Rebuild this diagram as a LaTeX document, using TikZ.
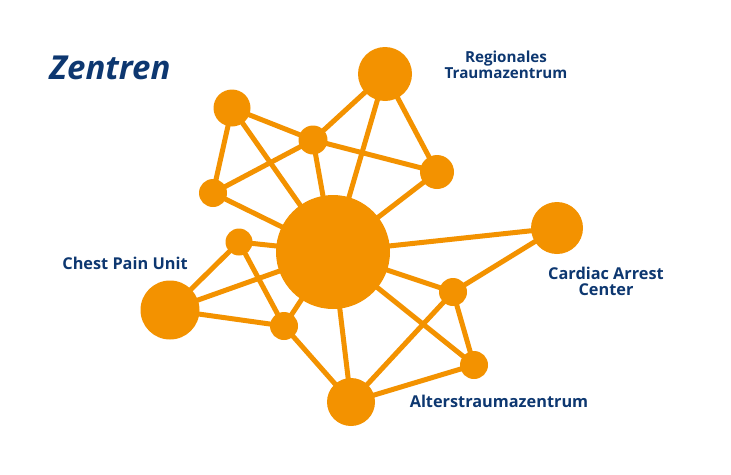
\documentclass[tikz,border=0pt]{standalone}
\usepackage{fontspec}
\setmainfont{Open Sans}
\usepackage{xcolor}
\usepackage{tikz}
\usetikzlibrary{backgrounds}
\definecolor{netorange}{RGB}{243,146,0}
\definecolor{netblue}{RGB}{13,55,112}

\begin{document}
\begin{tikzpicture}[x=1pt,y=-1pt,
  hub/.style={circle,fill=netorange,inner sep=0pt},
  link/.style={draw=netorange,line width=5pt},
  label/.style={text=netblue,font=\fontsize{16.3}{16}\selectfont\bfseries,align=center}]
\useasboundingbox (0,0) rectangle (731,474);
\node (1) at (333,252) [hub,minimum size=114pt] {};
\node (2) at (385,74) [hub,minimum size=54pt] {};
\node (3) at (232,108) [hub,minimum size=37pt] {};
\node (4) at (313,140) [hub,minimum size=29pt] {};
\node (5) at (437,172) [hub,minimum size=34pt] {};
\node (6) at (213,193) [hub,minimum size=28pt] {};
\node (7) at (557,228) [hub,minimum size=52pt] {};
\node (8) at (239,242) [hub,minimum size=27pt] {};
\node (9) at (170,310) [hub,minimum size=59pt] {};
\node (10) at (284,326) [hub,minimum size=28pt] {};
\node (11) at (453,292) [hub,minimum size=28pt] {};
\node (12) at (474,365) [hub,minimum size=28pt] {};
\node (13) at (351,402) [hub,minimum size=48pt] {};
\begin{scope}[on background layer]
\draw[link] (3.center) -- (4.center);
\draw[link] (3.center) -- (6.center);
\draw[link] (3.center) -- (1.center);
\draw[link] (4.center) -- (2.center);
\draw[link] (4.center) -- (6.center);
\draw[link] (4.center) -- (5.center);
\draw[link] (4.center) -- (1.center);
\draw[link] (2.center) -- (1.center);
\draw[link] (2.center) -- (5.center);
\draw[link] (5.center) -- (1.center);
\draw[link] (6.center) -- (1.center);
\draw[link] (1.center) -- (7.center);
\draw[link] (1.center) -- (8.center);
\draw[link] (1.center) -- (9.center);
\draw[link] (1.center) -- (10.center);
\draw[link] (1.center) -- (11.center);
\draw[link] (1.center) -- (12.center);
\draw[link] (1.center) -- (13.center);
\draw[link] (8.center) -- (9.center);
\draw[link] (8.center) -- (10.center);
\draw[link] (9.center) -- (10.center);
\draw[link] (10.center) -- (13.center);
\draw[link] (11.center) -- (7.center);
\draw[link] (11.center) -- (12.center);
\draw[link] (11.center) -- (13.center);
\draw[link] (12.center) -- (13.center);
\end{scope}
\node (title) at (110,68) [text=netblue,font=\fontsize{33}{34}\selectfont\bfseries\itshape] {Zentren};
\node (l2) at (506,65) [label,font=\fontsize{15.2}{16}\selectfont\bfseries] {Regionales\\Traumazentrum};
\node (l7) at (606,281) [label] {Cardiac Arrest\\Center};
\node (l9) at (125,263) [label] {Chest Pain Unit};
\node (l13) at (499,401) [label] {Alterstraumazentrum};
\end{tikzpicture}
\end{document}
